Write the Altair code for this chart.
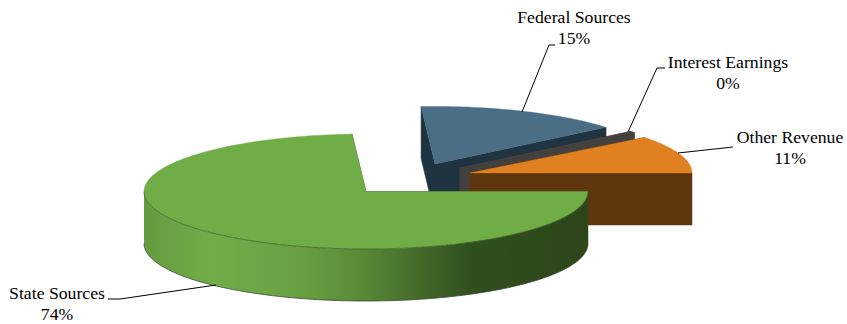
import math
import altair as alt

# Budget shares by revenue source
categories = ["State Sources", "Federal Sources", "Interest Earnings", "Other Revenue"]
shares = [74, 15, 0.4, 10.6]

# Colours per slice: top face, side walls
top_colors = ["#70AD47", "#4A6E85", "#4A4542", "#E08020"]
wall_colors = ["#2F4A1B", "#203340", "#43403E", "#5F370E"]

# Pie geometry in canvas units: a tilted disc with each slice exploded from the middle
RX, RY, DEPTH = 222, 57.5, 52
APEX = [(366, 191.5), (435, 164), (460, 168), (470, 173)]

# Leader lines and label placement (y is the first line of each label)
LEADERS = [
    [(216, 285), (120, 299), (108, 299)],
    [(522, 112), (549, 45), (555, 45)],
    [(628, 132), (657, 68), (665, 68)],
    [(678, 153), (733, 147)],
]
LABEL_POS = [(57, 294), (574, 18), (728, 63), (790, 138)]

WIDTH, HEIGHT = 847, 324
FONT = "Liberation Serif"


def feature(geom_type, coords):
    return {"type": "Feature", "properties": {}, "geometry": {"type": geom_type, "coordinates": coords}}


def rim(apex, deg):
    a = math.radians(deg)
    return (apex[0] + RX * math.cos(a), apex[1] + RY * math.sin(a))


def drop(p):
    return (p[0], p[1] + DEPTH)


def sweep(a0, a1):
    n = max(2, int(abs(a1 - a0)) + 1)
    return [a0 + (a1 - a0) * i / (n - 1) for i in range(n)]


def polygon(points):
    ring = [list(p) for p in points]
    ring.append(ring[0])
    return feature("Polygon", [ring])


def polyline(points):
    return feature("LineString", [list(p) for p in points])


def shape(feat, **mark):
    data = alt.InlineData(values=[feat], format=alt.DataFormat(type="json"))
    return alt.Chart(data).mark_geoshape(**mark).project(type="identity", scale=1, translate=[0, 0])


green_wall = alt.Gradient(
    gradient="linear", x1=0, x2=1, y1=0, y2=0,
    stops=[
        alt.GradientStop(offset=0, color="#659B40"),
        alt.GradientStop(offset=0.15, color="#70AD47"),
        alt.GradientStop(offset=0.35, color="#68A043"),
        alt.GradientStop(offset=0.49, color="#5A8A38"),
        alt.GradientStop(offset=0.62, color="#446A2A"),
        alt.GradientStop(offset=0.73, color="#31501E"),
        alt.GradientStop(offset=1, color="#2D4519"),
    ],
)

# Painter's order: the slices at the back first, the big front slice last
layers = []
start = 0.0
spans = []
for s in shares:
    spans.append((start, start + s * 3.6))
    start += s * 3.6

for i in [1, 2, 3, 0]:
    a0, a1 = spans[i]
    apex = APEX[i]
    wall = wall_colors[i]
    # radial faces
    for ang in (a0, a1):
        p = rim(apex, ang)
        layers.append(shape(polygon([apex, p, drop(p), drop(apex)]), fill=wall, stroke=wall, strokeWidth=0.5))
    # curved outer wall, only where the rim faces the viewer
    lo, hi = max(a0, 0), min(a1, 180)
    if hi > lo:
        arc = [rim(apex, a) for a in sweep(lo, hi)]
        pts = arc + [drop(p) for p in reversed(arc)]
        fill = green_wall if i == 0 else wall
        layers.append(shape(polygon(pts), fill=fill))
        # thin dark lines along the near rim and the foot of the wall
        layers.append(shape(polyline([drop(p) for p in arc]), filled=False, fill="transparent",
                            stroke="#3A4A30", strokeWidth=0.8))
    # top face
    top = [apex] + [rim(apex, a) for a in sweep(a0, a1)]
    layers.append(shape(polygon(top), fill=top_colors[i], stroke=top_colors[i], strokeWidth=0.4))
    if hi > lo:
        layers.append(shape(polyline(arc), filled=False, fill="transparent",
                            stroke="#2F4A1B", strokeWidth=0.6))

# Leader lines
for path in LEADERS:
    layers.append(shape(polyline(path), filled=False, fill="transparent", stroke="#000000", strokeWidth=1))

# Two-line labels: category name above its rounded share
label_rows = [
    {"text": f"{c}\n{round(v)}%", "lon": p[0], "lat": p[1]}
    for c, v, p in zip(categories, shares, LABEL_POS)
]
labels = (
    alt.Chart(alt.Data(values=label_rows))
    .mark_text(font=FONT, fontSize=17.7, color="#000000", align="center", baseline="middle",
               lineBreak="\n", lineHeight=21)
    .encode(longitude="lon:Q", latitude="lat:Q", text="text:N")
    .project(type="identity", scale=1, translate=[0, 0])
)
layers.append(labels)

chart = (
    alt.layer(*layers)
    .properties(width=WIDTH, height=HEIGHT, padding=0, background="#FFFFFF",
                autosize=alt.AutoSizeParams(type="none"))
    .configure_view(stroke=None)
)

chart.save("out.html", embed_options={"renderer": "svg", "actions": False})
